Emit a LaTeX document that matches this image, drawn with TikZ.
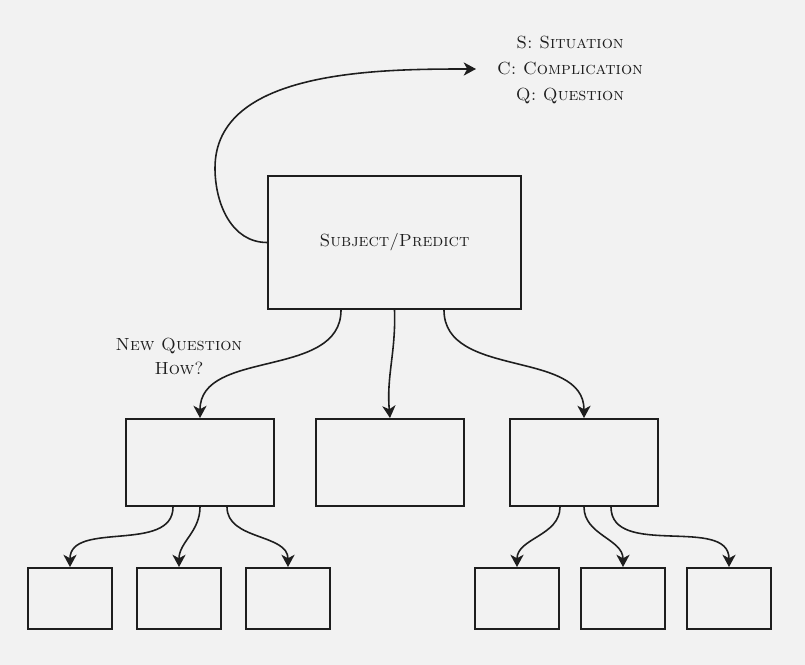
\documentclass[tikz,border=0pt]{standalone}
\usepackage{tikz}
\usetikzlibrary{arrows.meta}
\usetikzlibrary{calc}
\definecolor{papir}{HTML}{F2F2F2}
\definecolor{tinta}{HTML}{1E1E1E}

\begin{document}
\begin{tikzpicture}[%
x=0.02cm, y=-0.02cm,
>={Stealth[length=7pt, width=7.5pt, inset=2pt]},
doboz/.style={draw=tinta, line width=1.1pt, inner sep=0pt},
fo/.style={doboz, minimum width=5.06cm, minimum height=2.66cm},
kozep/.style={doboz, minimum width=2.96cm, minimum height=1.74cm},
kicsi/.style={doboz, minimum width=1.68cm, minimum height=1.22cm},
nyil/.style={->, draw=tinta, line width=0.9pt},
felirat/.style={text=tinta, align=center, font=\fontsize{10}{14.7}\selectfont\scshape},
]

% papir
\fill[papir] (0,0) rectangle (805,665);
\useasboundingbox (0,0) rectangle (805,665);

\node[fo, felirat](targy) at (394.5,242.5){Subject/Predict};

\node[kozep](bal)     at (200,462.5){};
\node[kozep](kozepso) at (390,462.5){};
\node[kozep](jobb)    at (584,462.5){};

\foreach \nev/\xx in {b1/70, b2/179, b3/288, j1/517, j2/623, j3/729}
  \node[kicsi](\nev) at (\xx,598.5){};

\node[felirat](scq) at (570,70){S: Situation\\C: Complication\\Q: Question};
\node[felirat, font=\fontsize{10}{13.6}\selectfont\scshape](ujkerdes) at (179,356){New Question\\How?};

\coordinate(cel) at (476,69);
\draw[nyil] (targy.west) to[out=180, in=-90] (215,168) to[out=90, in=180, looseness=0.9] (cel);

\draw[nyil] ([xshift=-1.07cm]targy.south) to[out=-90, in=90] (bal.north);
\draw[nyil] (targy.south) to[out=-88, in=95] (kozepso.north);
\draw[nyil] ([xshift=0.99cm]targy.south) to[out=-90, in=90] (jobb.north);

\draw[nyil] ([xshift=-0.54cm]bal.south) to[out=-90, in=90] (b1.north);
\draw[nyil] (bal.south) to[out=-90, in=90] (b2.north);
\draw[nyil] ([xshift=0.54cm]bal.south) to[out=-90, in=90] (b3.north);

\draw[nyil] ([xshift=-0.48cm]jobb.south) to[out=-90, in=90] (j1.north);
\draw[nyil] (jobb.south) to[out=-90, in=90] (j2.north);
\draw[nyil] ([xshift=0.54cm]jobb.south) to[out=-90, in=90] (j3.north);

\end{tikzpicture}
\end{document}
